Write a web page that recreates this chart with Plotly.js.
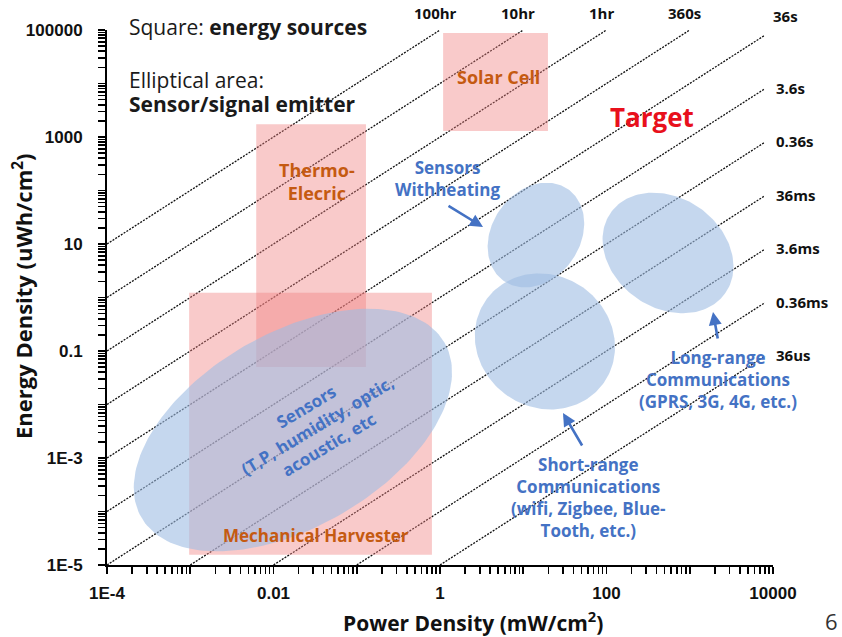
<!DOCTYPE html>
<html>
<head>
<meta charset="utf-8">
<script src="https://cdn.plot.ly/plotly-3.0.1.min.js"></script>
<style>
  html, body { margin: 0; padding: 0; background: #ffffff; }
  #chart { width: 842px; height: 637px; }
</style>
</head>
<body>
<div id="chart"></div>
<script>
// Constant-time guide lines: E / P = t  (E in uWh/cm2, P in mW/cm2, 1 uWh/mW = 3.6 s)
const timeLabels  = ['100hr', '10hr', '1hr', '360s', '36s', '3.6s', '0.36s', '36ms', '3.6ms', '0.36ms', '36us'];
const timeSeconds = [360000, 36000, 3600, 360, 36, 3.6, 0.36, 0.036, 0.0036, 0.00036, 0.000036];

// Energy sources (rectangles): power range [mW/cm2] and energy range [uWh/cm2]
const sourceNames     = ['Solar Cell', 'Thermo-<br>Elecric', 'Mechanical Harvester'];
const sourcePowerMin  = [1.09, 0.0062, 0.00097];
const sourcePowerMax  = [19.8, 0.129, 0.80];
const sourceEnergyMin = [1295, 0.05, 1.55e-5];
const sourceEnergyMax = [88000, 1726, 1.23];

// Sensor / signal emitter regions (ellipses): centre power and energy
const regionNames         = ['Sensors', 'Sensors Withheating', 'Short-range Communications', 'Long-range Communications'];
const regionPowerCentre   = [0.0171, 14.2, 18.2, 548];
const regionEnergyCentre  = [0.00333, 14.7, 0.151, 6.8];

// Axis ticks
const xTickVals = [1e-4, 1e-3, 1e-2, 1e-1, 1, 10, 100, 1000, 10000];
const xTickText = ['1E-4', '', '0.01', '', '1', '', '100', '', '10000'];
const yTickVals = [1e-5, 1e-4, 1e-3, 1e-2, 1e-1, 1, 10, 100, 1000, 10000, 100000];
const yTickText = ['1E-5', '', '1E-3', '', '0.1', '', '10', '', '1000', '', '100000'];

// ---- layout geometry ----
const W = 842, H = 637;
const M = { l: 107, r: 69, t: 30, b: 72 };
const PW = W - M.l - M.r, PH = H - M.t - M.b;
const X_RANGE = [-4, 4], Y_RANGE = [-5, 5];
const pxPerDecX = PW / (X_RANGE[1] - X_RANGE[0]);
const pxPerDecY = PH / (Y_RANGE[1] - Y_RANGE[0]);
const P_RIGHT_END = 8000;

function at(px, py) {
  return { xref: 'paper', yref: 'paper', x: (px - M.l) / PW, y: (M.t + PH - py) / PH };
}

// 2..9 x 10^k positions inside each decade
function minorTicks(lo, hi) {
  const v = [];
  for (let k = lo; k < hi; k++) for (let d = 2; d <= 9; d++) v.push(d * Math.pow(10, k));
  return v;
}
const bold = s => (s ? '<b>' + s + '</b>' : '');

// decade ticks (labelled every second decade) plus unlabelled 2..9 ticks
function allTicks(vals, text, range) {
  const minor = minorTicks(range[0], range[1]);
  return { tickvals: vals.concat(minor), ticktext: text.map(bold).concat(minor.map(() => '')) };
}

const traces = [];
const annotations = [];

const labelFont = { family: 'Open Sans, sans-serif', size: 15, color: '#111111' };

// guide lines
timeSeconds.forEach((t, i) => {
  const r = t / 3.6;
  const p0 = Math.max(1e-4, 1e-5 / r);
  const p1 = Math.min(P_RIGHT_END, 1e5 / r);
  traces.push({
    x: [p0, p1], y: [p0 * r, p1 * r],
    mode: 'lines', type: 'scatter', hoverinfo: 'skip', showlegend: false,
    line: { color: '#111111', width: 1.3, dash: '2px,1.3px' }
  });
  const e1 = p1 * r;
  const a = { xref: 'x', yref: 'y', x: Math.log10(p1), y: Math.log10(e1),
              text: bold(timeLabels[i]), showarrow: false, font: labelFont };
  if (p1 < P_RIGHT_END) {
    Object.assign(a, { xanchor: 'center', yanchor: 'bottom', xshift: -5, yshift: 5 });
  } else if (e1 > 3e4) {
    Object.assign(a, { xanchor: 'left', yanchor: 'bottom', xshift: 6, yshift: 7 });
  } else {
    Object.assign(a, { xanchor: 'left', yanchor: 'middle', xshift: 9, yshift: 1 });
  }
  annotations.push(a);
});

// energy source rectangles
sourceNames.forEach((name, i) => {
  const x0 = sourcePowerMin[i], x1 = sourcePowerMax[i];
  const y0 = sourceEnergyMin[i], y1 = sourceEnergyMax[i];
  traces.push({
    x: [x0, x1, x1, x0, x0], y: [y0, y0, y1, y1, y0],
    mode: 'lines', type: 'scatter', fill: 'toself', hoverinfo: 'skip', showlegend: false,
    line: { width: 0, color: 'rgba(0,0,0,0)' },
    fillcolor: 'rgba(240,128,128,0.42)'
  });
});

// emitter ellipses: semi-axes in px and tilt in degrees
const ellipseShape = [[175, 97, 30], [56, 44, 55], [72, 66, -35], [70, 55, -35]];
regionNames.forEach((name, i) => {
  const [a, b, deg] = ellipseShape[i];
  const th = deg * Math.PI / 180;
  const lx = Math.log10(regionPowerCentre[i]), ly = Math.log10(regionEnergyCentre[i]);
  const xs = [], ys = [];
  for (let k = 0; k <= 180; k++) {
    const s = 2 * Math.PI * k / 180;
    const u = a * Math.cos(s), v = b * Math.sin(s);
    const dx = u * Math.cos(th) - v * Math.sin(th);
    const dy = u * Math.sin(th) + v * Math.cos(th);
    xs.push(Math.pow(10, lx + dx / pxPerDecX));
    ys.push(Math.pow(10, ly + dy / pxPerDecY));
  }
  traces.push({
    x: xs, y: ys, mode: 'lines', type: 'scatter', fill: 'toself',
    hoverinfo: 'skip', showlegend: false,
    line: { width: 0, color: 'rgba(0,0,0,0)' },
    fillcolor: 'rgba(158,188,227,0.6)'
  });
});

const FONT = 'Open Sans, sans-serif';
const ORANGE = '#C55A11', BLUE = '#4472C4';
function txt(px, py, text, size, color, extra) {
  return Object.assign(at(px, py), {
    text: text, showarrow: false, xanchor: 'center', yanchor: 'middle', align: 'center',
    font: { family: FONT, size: size, color: color }
  }, extra || {});
}
function arrow(hx, hy, ax, ay) {
  return Object.assign(at(hx, hy), {
    text: '', showarrow: true, ax: ax, ay: ay, arrowhead: 2, arrowsize: 1,
    arrowwidth: 2.6, arrowcolor: BLUE, standoff: 0, startstandoff: 0
  });
}

annotations.push(
  txt(127, 27, 'Square: <b>energy sources</b>', 21, '#1a1a1a', { xanchor: 'left', align: 'left' }),
  txt(127, 80, 'Elliptical area:', 21, '#1a1a1a', { xanchor: 'left', align: 'left' }),
  txt(127, 104, '<b>Sensor/signal emitter</b>', 21, '#1a1a1a', { xanchor: 'left', align: 'left' }),
  txt(499, 77, bold(sourceNames[0]), 18, ORANGE),
  txt(317, 181, bold(sourceNames[1]), 18, ORANGE),
  txt(316, 535, bold(sourceNames[2]), 17, ORANGE),
  txt(652, 117, '<b>Target</b>', 26, '#e8101c'),
  txt(448, 178, '<b>Sensors<br>Withheating</b>', 17, BLUE),
  txt(317, 425, '<b>Sensors<br>(T,P, humidity, optic,<br>acoustic, etc</b>', 17, BLUE, { textangle: -31 }),
  txt(588, 497, '<b>Short-range<br>Communications<br>(wifi, Zigbee, Blue-<br>Tooth, etc.)</b>', 17, BLUE),
  txt(718, 379, '<b>Long-range<br>Communications<br>(GPRS, 3G, 4G, etc.)</b>', 17, BLUE),
  arrow(483, 227, -36, -22),
  arrow(713, 312, 5, 28),
  arrow(563, 413, 20, 34),
  txt(473, 621, '<b>Power Density (mW/cm<sup>2</sup>)</b>', 21, '#111111'),
  txt(22, 296, '<b>Energy Density (uWh/cm<sup>2</sup>)</b>', 22, '#111111', { textangle: -90 }),
  txt(831, 621, '6', 22, '#333333')
);

const tickFont = { family: 'Liberation Sans, Arial, sans-serif', size: 17, color: '#111111' };
const axisCommon = {
  type: 'log', tickmode: 'array', ticks: 'outside', ticklen: 7, tickwidth: 1.6, tickcolor: '#000',
  showline: true, linecolor: '#000', linewidth: 2, showgrid: false, zeroline: false,
  tickfont: tickFont, fixedrange: true
};

const layout = {
  width: W, height: H, margin: M,
  paper_bgcolor: '#ffffff', plot_bgcolor: '#ffffff',
  showlegend: false,
  xaxis: Object.assign({}, axisCommon, { range: X_RANGE, ticklabelstandoff: 5 },
                       allTicks(xTickVals, xTickText, X_RANGE)),
  yaxis: Object.assign({}, axisCommon, { range: Y_RANGE, ticklabelstandoff: 12 },
                       allTicks(yTickVals, yTickText, Y_RANGE)),
  annotations: annotations
};

Plotly.newPlot('chart', traces, layout, { staticPlot: true, displayModeBar: false });
</script>
</body>
</html>
